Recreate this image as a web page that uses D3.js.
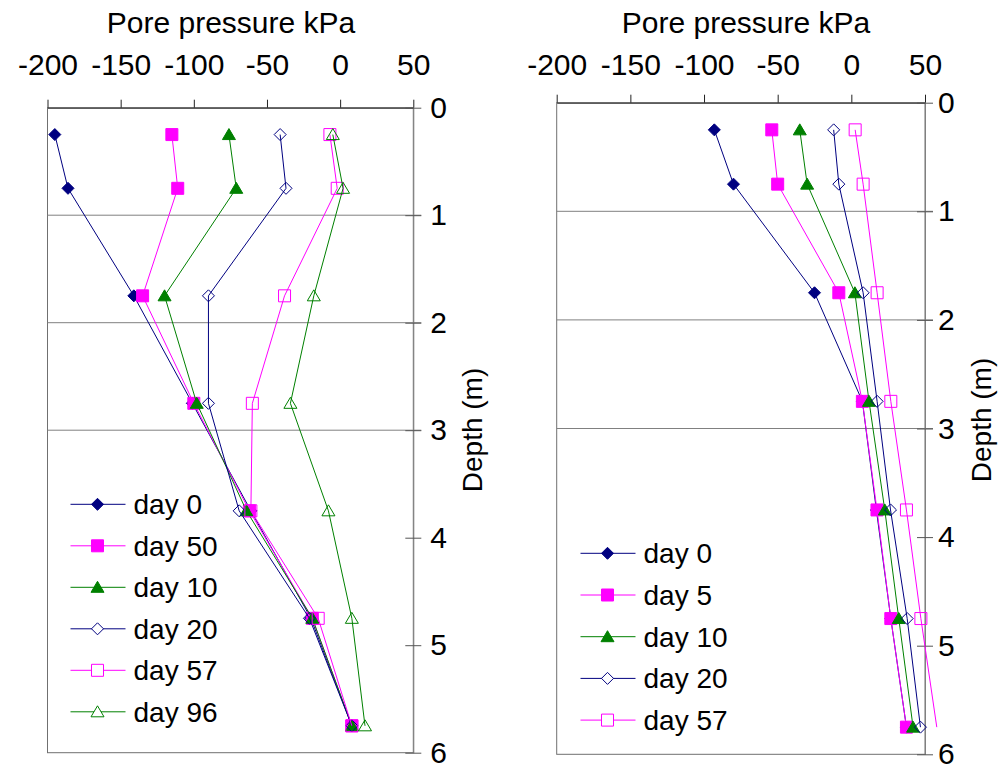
<!DOCTYPE html>
<html>
<head>
<meta charset="utf-8">
<script src="https://cdn.jsdelivr.net/npm/d3@7"></script>
<style>
  body { margin: 0; background: #fff; }
  svg { display: block; font-family: "Liberation Sans", Arial, sans-serif; }
</style>
</head>
<body>
<svg id="chart" width="1008" height="769"></svg>
<script>
// depths of the piezometers (m)
const depths = [0.25, 0.75, 1.75, 2.75, 3.75, 4.75, 5.75];
const xTicks = [-200, -150, -100, -50, 0, 50];
const yTicks = [0, 1, 2, 3, 4, 5, 6];
const gridDepths = [1, 2, 3];

// left chart, pore pressure kPa
const leftNames = ["day 0", "day 50", "day 10", "day 20", "day 57", "day 96"];
const leftDay0 = [-195, -186, -141, -101, -61, -20, 8];
const leftDay50 = [-115, -111, -135, -100, -62, -19, 8];
const leftDay10 = [-76, -71, -120, -98, -64, -19, 8];
const leftDay20 = [-41, -37, -90, -90, -69, -21, 8];
const leftDay57 = [-7, -2, -38, -60, -61, -15, 8];
const leftDay96 = [-5, 2, -18, -34, -8, 8, 17];

// right chart
const rightNames = ["day 0", "day 5", "day 10", "day 20", "day 57"];
const rightDay0 = [-93, -80, -25, 7.5, 17, 26.8, 37.4];
const rightDay5 = [-54, -50, -8.5, 7.5, 17.4, 26.8, 37.4];
const rightDay10 = [-35, -30, 2.4, 12, 22.7, 32.2, 41.9];
const rightDay20 = [-12, -8.5, 8, 17.5, 26.6, 37.9, 46.9];
const rightDay57 = [2.6, 8, 17.5, 26.8, 37.4, 47.2, 58];

// marker look per series slot
const styles = [
    { color: "#000080", shape: "diamond", fill: true },
    { color: "#ff00ff", shape: "square", fill: true },
    { color: "#008000", shape: "triangle", fill: true },
    { color: "#000080", shape: "diamond", fill: false },
    { color: "#ff00ff", shape: "square", fill: false },
    { color: "#008000", shape: "triangle", fill: false }
];

function markerPath(shape) {
    if (shape === "diamond") return "M0,-6L6,0L0,6L-6,0Z";
    if (shape === "square") return "M-6,-6H6V6H-6Z";
    return "M0,-6L6.5,5H-6.5Z";
}

class PorePanel {
    constructor(_config, _series, _names) {
        this.config = _config;
        this.series = _series;
        this.names = _names;
        this.initVis();
    }

    initVis() {
        let vis = this;
        const c = vis.config;
        vis.svg = d3.select("#chart").append("g");

        vis.xScale = d3.scaleLinear().domain([-200, 50]).range([c.left, c.right]);
        vis.yScale = d3.scaleLinear().domain([0, 6]).range([c.top, c.bottom]);

        // frame
        vis.svg.append("rect")
            .attr("x", c.left).attr("y", c.top)
            .attr("width", c.right - c.left).attr("height", c.bottom - c.top)
            .attr("fill", "none")
            .attr("stroke", "#707070");

        // gridlines
        vis.svg.selectAll(".grid")
            .data(gridDepths)
            .enter()
            .append("line")
            .attr("x1", c.left)
            .attr("x2", c.right + 8)
            .attr("y1", d => vis.yScale(d))
            .attr("y2", d => vis.yScale(d))
            .attr("stroke", "#808080");

        // top axis
        const xAxis = d3.axisTop(vis.xScale)
            .tickValues(xTicks)
            .tickFormat(d => String(d))
            .tickSize(8)
            .tickSizeOuter(0)
            .tickPadding(c.top - 83);
        const gx = vis.svg.append("g")
            .attr("transform", `translate(0,${c.top})`)
            .call(xAxis);
        gx.select(".domain").attr("stroke", "#222");
        gx.selectAll(".tick line").attr("stroke", "#222");
        gx.selectAll("text")
            .attr("font-size", 30)
            .attr("font-family", "Liberation Sans, Arial, sans-serif")
            .attr("fill", "#000");

        // right axis with crossing ticks
        const yAxis = d3.axisRight(vis.yScale)
            .tickValues(yTicks)
            .tickFormat(d3.format("d"))
            .tickSize(8)
            .tickSizeOuter(0)
            .tickPadding(c.labelPad);
        const gy = vis.svg.append("g")
            .attr("transform", `translate(${c.right},0)`)
            .call(yAxis);
        gy.select(".domain").attr("stroke", "#808080");
        gy.selectAll(".tick line").attr("x1", -8).attr("stroke", "#555");
        gy.selectAll("text")
            .attr("font-size", 30)
            .attr("font-family", "Liberation Sans, Arial, sans-serif")
            .attr("fill", "#000");

        // titles
        vis.svg.append("text")
            .attr("x", c.titleX)
            .attr("y", 33)
            .attr("text-anchor", "middle")
            .attr("font-size", 30)
            .text("Pore pressure kPa");

        vis.svg.append("text")
            .attr("transform", `translate(${c.depthX},${c.depthY}) rotate(-90)`)
            .attr("text-anchor", "middle")
            .attr("font-size", 28)
            .text("Depth (m)");

        // series
        const line = d3.line()
            .x(d => vis.xScale(d.v))
            .y(d => vis.yScale(d.depth));

        vis.series.forEach((values, i) => {
            const st = styles[i];
            const pts = values.map((v, j) => ({ v: v, depth: depths[j] }));
            vis.svg.append("path")
                .datum(pts)
                .attr("d", line)
                .attr("fill", "none")
                .attr("stroke", st.color)
                .attr("stroke-width", 1);

            vis.svg.selectAll(".m" + i)
                .data(pts.filter(d => d.v <= 50))
                .enter()
                .append("path")
                .attr("transform", d => `translate(${vis.xScale(d.v)},${vis.yScale(d.depth)})`)
                .attr("d", markerPath(st.shape))
                .attr("fill", st.fill ? st.color : "#fff")
                .attr("fill-opacity", st.fill ? 1 : 0)
                .attr("stroke", st.color)
                .attr("stroke-width", 1);
        });

        // legend
        const leg = vis.svg.selectAll(".legend")
            .data(vis.names)
            .enter()
            .append("g")
            .attr("transform", (d, i) => `translate(${c.legX},${c.legY + i * c.legStep})`);

        leg.append("line")
            .attr("x1", 0).attr("x2", 55)
            .attr("stroke", (d, i) => styles[i].color);
        leg.append("path")
            .attr("transform", "translate(27,0)")
            .attr("d", (d, i) => markerPath(styles[i].shape))
            .attr("fill", (d, i) => styles[i].fill ? styles[i].color : "#fff")
            .attr("stroke", (d, i) => styles[i].color);
        leg.append("text")
            .attr("x", 63)
            .attr("y", 10)
            .attr("font-size", 28)
            .text(d => d);
    }
}

new PorePanel({
    left: 47.5, right: 413.3, top: 107.7, bottom: 752.7,
    labelPad: 9, titleX: 231, depthX: 482, depthY: 430,
    legX: 70.5, legY: 504.3, legStep: 41.5
}, [leftDay0, leftDay50, leftDay10, leftDay20, leftDay57, leftDay96], leftNames);

new PorePanel({
    left: 556.7, right: 925, top: 102.7, bottom: 754.3,
    labelPad: 5, titleX: 746, depthX: 991, depthY: 420,
    legX: 580.5, legY: 553.3, legStep: 41.7
}, [rightDay0, rightDay5, rightDay10, rightDay20, rightDay57], rightNames);
</script>
</body>
</html>
